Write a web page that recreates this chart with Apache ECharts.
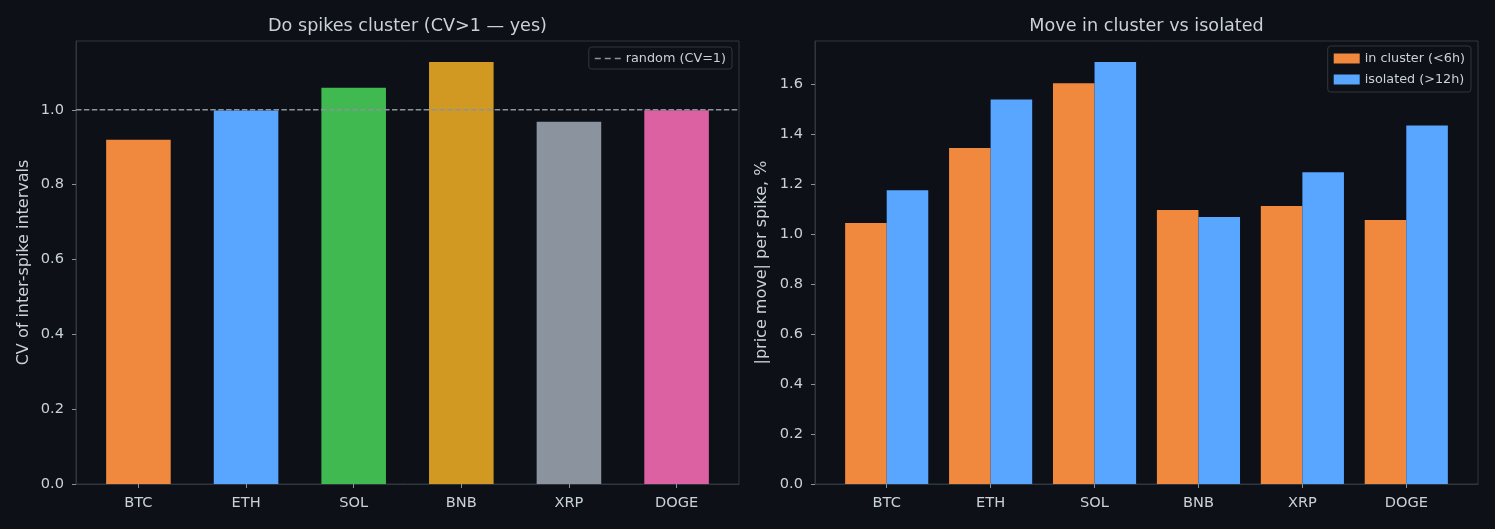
<!DOCTYPE html>
<html>
<head>
<meta charset="utf-8">
<script src="https://cdn.jsdelivr.net/npm/echarts@6/dist/echarts.min.js"></script>
<style>
html,body{margin:0;padding:0;background:#0d1017;}
#c{width:1495px;height:529px;}
</style>
</head>
<body>
<div id="c"></div>
<script>
const categories = ['BTC','ETH','SOL','BNB','XRP','DOGE'];
const cvValues = [0.920, 0.998, 1.059, 1.128, 0.968, 0.999];
const cvColors = ['#f0883e','#58a6ff','#3fb950','#d29922','#8b949e','#db61a2'];
const inCluster = [1.044, 1.344, 1.603, 1.096, 1.112, 1.056];
const isolated  = [1.175, 1.538, 1.688, 1.068, 1.247, 1.434];
const leftTicks = [0, 0.2, 0.4, 0.6, 0.8, 1.0];
const rightTicks = [0, 0.2, 0.4, 0.6, 0.8, 1.0, 1.2, 1.4, 1.6];

const FONT = 'DejaVu Sans';
const TXT = '#c9d1d9';
const EDGE = '#30363d';
const BG = '#0d1017';

const G0 = {left: 76, top: 41, width: 663, height: 443};
const G1 = {left: 815, top: 41, width: 663, height: 443};
const xMin0 = -0.58, xMax0 = 5.58;
const xMin1 = -0.69, xMax1 = 5.69;
const bw0 = 0.6 * G0.width / (xMax0 - xMin0);
const bw1 = 0.4 * G1.width / (xMax1 - xMin1);
const idx = categories.map((_, i) => i);

function xAxis(gi, mn, mx) {
  return {
    type: 'value', gridIndex: gi, min: mn, max: mx,
    splitLine: {show: false},
    axisLine: {show: true, onZero: false, lineStyle: {color: EDGE}},
    axisTick: {show: true, customValues: idx, length: 4, lineStyle: {color: '#8b949e'}},
    axisLabel: {customValues: idx, color: TXT, fontSize: 14.6, fontFamily: FONT, margin: 12,
      formatter: v => categories[Math.round(v)] || ''}
  };
}
function yAxis(gi, mx, name, gap, ticks) {
  return {
    type: 'value', gridIndex: gi, min: 0, max: mx,
    name: name, nameLocation: 'middle', nameGap: gap, nameRotate: 90,
    nameTextStyle: {color: TXT, fontSize: 16, fontFamily: FONT},
    splitLine: {show: false},
    axisLine: {show: true, onZero: false, lineStyle: {color: EDGE}},
    axisTick: {show: true, customValues: ticks, length: 4, lineStyle: {color: '#8b949e'}},
    axisLabel: {customValues: ticks, color: TXT, fontSize: 14.6, fontFamily: FONT, margin: 12,
      formatter: v => v.toFixed(1)}
  };
}

const dashIcon = 'path://M0,0h6v1.4h-6z M10,0h6v1.4h-6z M20,0h6v1.4h-6z';

const chart = echarts.init(document.getElementById('c'));
chart.setOption({
  backgroundColor: BG,
  animation: false,
  title: [
    {text: 'Do spikes cluster (CV>1 — yes)', left: G0.left + G0.width/2 - 5, textAlign: 'center', top: 12,
     textStyle: {color: TXT, fontSize: 17.6, fontWeight: 'normal', fontFamily: FONT}},
    {text: 'Move in cluster vs isolated', left: G1.left + G1.width/2 - 5, textAlign: 'center', top: 12,
     textStyle: {color: TXT, fontSize: 17.6, fontWeight: 'normal', fontFamily: FONT}}
  ],
  legend: [
    {data: [{name: 'random (CV=1)', icon: dashIcon}], right: 1495 - 732, top: 47, orient: 'vertical',
     itemWidth: 26, itemHeight: 1.6,
     backgroundColor: BG, borderColor: EDGE, borderWidth: 1, borderRadius: 3,
     padding: [5, 6, 4, 6],
     textStyle: {color: TXT, fontSize: 12.8, fontFamily: FONT}},
    {data: [{name: 'in cluster (<6h)', icon: 'rect'}, {name: 'isolated (>12h)', icon: 'rect'}],
     right: 1495 - 1471, top: 46, orient: 'vertical',
     itemWidth: 26, itemHeight: 10, itemGap: 8,
     backgroundColor: BG, borderColor: EDGE, borderWidth: 1, borderRadius: 3,
     padding: [6, 6, 6, 6],
     textStyle: {color: TXT, fontSize: 12.8, fontFamily: FONT}}
  ],
  grid: [
    Object.assign({show: true, borderColor: EDGE, borderWidth: 1, backgroundColor: 'transparent'}, G0),
    Object.assign({show: true, borderColor: EDGE, borderWidth: 1, backgroundColor: 'transparent'}, G1)
  ],
  xAxis: [xAxis(0, xMin0, xMax0), xAxis(1, xMin1, xMax1)],
  yAxis: [yAxis(0, 1.184, 'CV of inter-spike intervals', 44, leftTicks),
          yAxis(1, 1.772, '|price move| per spike, %', 45, rightTicks)],
  series: [
    {type: 'bar', xAxisIndex: 0, yAxisIndex: 0, barWidth: bw0,
     data: cvValues.map((v, i) => ({value: [i, v], itemStyle: {color: cvColors[i]}}))},
    {type: 'line', name: 'random (CV=1)', xAxisIndex: 0, yAxisIndex: 0, symbol: 'none',
     lineStyle: {color: '#8b949e', type: [5.5, 2.4], width: 1.5}, itemStyle: {color: '#8b949e'},
     data: [[xMin0, 1], [xMax0, 1]], z: 5},
    {type: 'bar', name: 'in cluster (<6h)', xAxisIndex: 1, yAxisIndex: 1, barWidth: bw1, barGap: '-100%',
     itemStyle: {color: '#f0883e'},
     data: inCluster.map((v, i) => [i - 0.2, v])},
    {type: 'bar', name: 'isolated (>12h)', xAxisIndex: 1, yAxisIndex: 1, barWidth: bw1, barGap: '-100%',
     itemStyle: {color: '#58a6ff'},
     data: isolated.map((v, i) => [i + 0.2, v])}
  ]
});
</script>
</body>
</html>
